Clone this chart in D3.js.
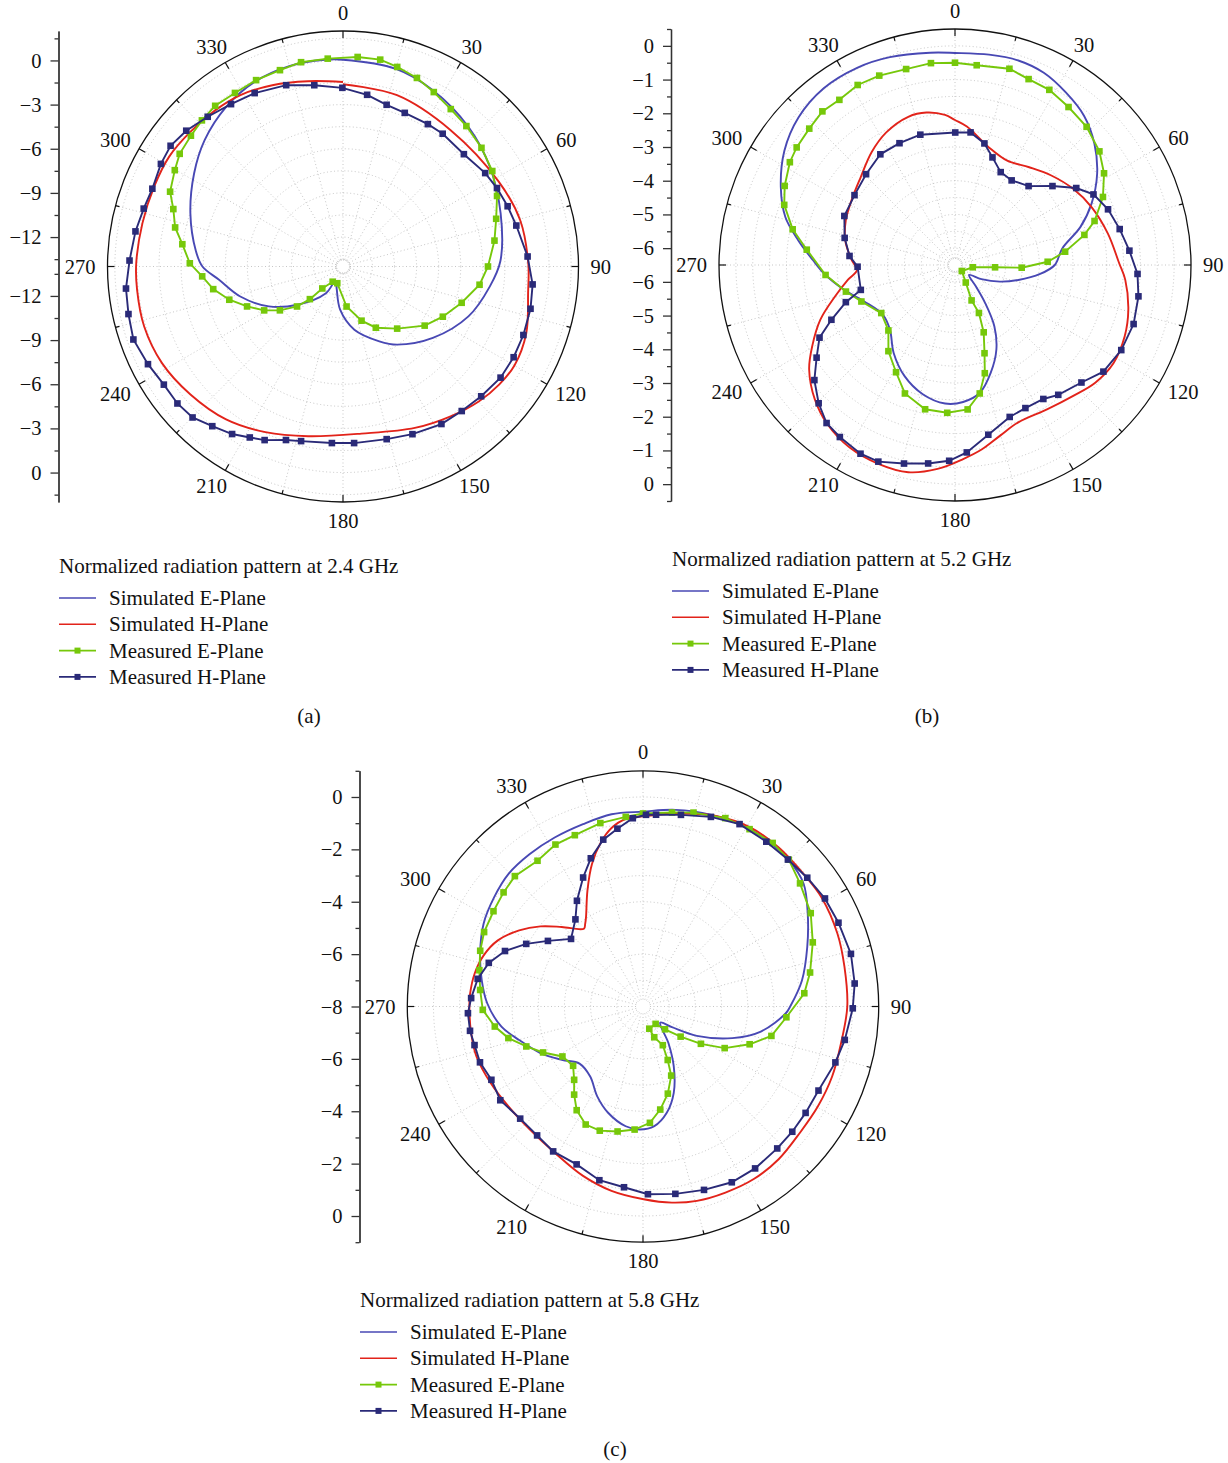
<!DOCTYPE html>
<html lang="en">
<head>
<meta charset="UTF-8">
<title>Normalized radiation patterns</title>
<script src="https://d3js.org/d3.v7.min.js"></script>
<style>
  body { margin: 0; background: #fff; }
  svg { display: block; }
</style>
</head>
<body>
<svg id="chart" width="1228" height="1463"></svg>
<script>
// ---- data: [angle in degrees, normalized level] ----
const angleLabels = [0, 30, 60, 90, 120, 150, 180, 210, 240, 270, 300, 330];
const seriesNames = ["Simulated E-Plane", "Simulated H-Plane", "Measured E-Plane", "Measured H-Plane"];
const panelTitles = [
  "Normalized radiation pattern at 2.4 GHz",
  "Normalized radiation pattern at 5.2 GHz",
  "Normalized radiation pattern at 5.8 GHz"
];
const panelLetters = ["(a)", "(b)", "(c)"];

// (a) 2.4 GHz
const a_simE = [[0,0.05],[15,-0.1],[27,-0.56],[41.9,-1.25],[55.8,-1.94],[71.4,-2.7],[88,-3.3],[97.7,-3.93],
  [111.7,-4.83],[128.5,-6.2],[145.3,-7.54],[154.1,-8.35],[169.8,-9.64],[183.8,-11.06],[196.5,-12.47],
  [207.8,-12.9],[212.6,-11.85],[230,-9.96],[241.7,-8.28],[253.7,-6.73],[263.9,-5.53],[270,-4.45],
  [276,-3.95],[289.2,-3.02],[302,-2.07],[312.4,-1.27],[323.8,-0.56],[334.4,-0.09],[345,0.1],[355,0.1]];
const a_simH = [[0,-1.62],[17.5,-1.8],[38.3,-2.2],[61.4,-1.95],[75.3,-1.56],[89,-1.41],[98,-1.3],[110,-0.75],
  [120,-0.55],[127,-0.7],[134.7,-0.99],[144.3,-1.47],[156,-2.0],[173.7,-2.58],[191.6,-2.23],[205.1,-1.57],
  [217.4,-0.92],[230,-0.47],[241.9,-0.06],[253.2,0.11],[263.6,0.08],[270.9,0.05],[282.2,-0.06],[292.9,-0.07],
  [302.3,-0.03],[311.4,-0.17],[320.8,-0.29],[329.1,-0.43],[338.7,-0.78],[349.3,-1.19],[360,-1.46]];
const a_measE = [[4,0.27],[10.2,0.28],[15.2,0.05],[21.4,-0.24],[27.5,-0.64],[34.4,-1.04],[41.3,-1.3],[49.4,-1.61],
  [57.4,-1.96],[65.4,-2.49],[72.7,-3.1],[80.3,-3.56],[90,-4.15],[97.6,-4.64],[107,-5.57],[116.7,-6.41],
  [125.9,-7.15],[138.9,-8.4],[151.8,-9.28],[161.1,-10.11],[174.9,-11.27],[198.9,-12.8],[214.2,-12.75],
  [223.3,-11.95],[225.4,-10.84],[229,-9.86],[235.2,-8.78],[240.9,-7.87],[247.4,-6.94],[253.7,-5.95],
  [260.1,-5.05],[266,-4.41],[271.2,-3.59],[277.9,-2.98],[283.1,-2.29],[288.7,-1.83],[293.4,-1.2],
  [299.8,-0.83],[304.6,-0.52],[310.7,-0.37],[316,-0.2],[321.5,-0.05],[328.1,-0.11],[335,-0.03],
  [342.2,0.01],[348.4,0.17],[355.8,0.16]];
const a_measH = [[8,-2.22],[15.1,-2.62],[21.9,-2.75],[30.8,-2.74],[36.9,-2.72],[47.1,-2.79],[56.7,-2.44],
  [63,-2.26],[69.9,-2.09],[76.7,-1.9],[86.9,-1.44],[95.4,-1.06],[102.7,-0.94],[110.8,-0.89],[118,-0.87],
  [125.2,-0.9],[133.2,-1.12],[140.6,-1.29],[148,-1.38],[157.5,-1.67],[165.8,-1.9],[176.4,-1.98],
  [183.6,-1.98],[193.5,-1.8],[198.2,-1.59],[204.3,-1.06],[208.6,-0.77],[213.5,-0.35],[219.3,0.02],
  [224.9,0.48],[230.4,0.6],[236.6,0.58],[243.4,0.82],[250.8,1.08],[257.5,0.93],[264.2,0.82],[271.6,0.51],
  [279.6,0.3],[286.2,0.1],[292.2,-0.01],[299.4,0.2],[305,0.3],[310.9,0.09],[317.9,-0.29],[325.4,-0.6],
  [333,-0.78],[342.6,-1.09],[351,-1.53],[359.8,-1.86]];

// (b) 5.2 GHz
const b_simE = [[0,-0.21],[9.2,-0.18],[17.2,-0.15],[24.8,-0.22],[32.8,-0.42],[40.9,-0.65],[49,-1.02],[57.3,-1.49],
  [65.8,-2.06],[73.1,-2.61],[81.2,-3.28],[90,-3.54],[96,-3.96],[103.3,-4.57],[110.3,-5.08],[118.2,-5.61],
  [125.2,-5.99],[135.7,-5.61],[141.6,-5.06],[147.3,-4.34],[153.9,-3.71],[161.7,-3.13],[169,-2.64],
  [176.6,-2.43],[184.1,-2.38],[194,-2.55],[204.4,-2.88],[214.9,-3.32],[225.2,-3.78],[235.5,-3.9],
  [248.1,-3.6],[257.4,-3.13],[266.4,-2.6],[272,-2.28],[279,-1.79],[285.8,-1.27],[294.1,-0.84],
  [303.8,-0.41],[313.3,-0.12],[323.4,0.03],[333.6,0.03],[342.6,-0.04],[353.3,-0.16]];
const b_simH = [[0,-2.2],[4.9,-2.38],[16.1,-2.87],[26.6,-3.04],[37.2,-2.86],[47.1,-2.6],[57.2,-2.33],[67,-2.1],
  [78.4,-1.87],[89.4,-1.63],[95,-1.43],[104.5,-1.19],[112.8,-1.04],[121.7,-0.97],[130,-1.07],[137.9,-1.27],
  [147.3,-1.42],[158.1,-1.47],[165.3,-1.26],[171.8,-0.97],[177.6,-0.74],[184.9,-0.43],[192.7,-0.2],
  [200.9,-0.18],[210,-0.25],[218.7,-0.45],[226.2,-0.74],[234.4,-1.18],[240.4,-1.63],[247.9,-2.19],
  [255.3,-2.82],[262.1,-3.29],[267.1,-3.59],[272.8,-3.43],[282.8,-3.16],[292.3,-3.0],[302,-2.88],
  [312.9,-2.68],[323.5,-2.34],[332.6,-2.07],[342.5,-1.89],[349.4,-1.9],[356.2,-2.04]];
const b_measE = [[0,-0.5],[6.2,-0.54],[15.5,-0.46],[21.6,-0.57],[28.3,-0.6],[35.7,-0.73],[43.6,-0.84],[51.8,-1.05],
  [58.4,-1.31],[65.3,-1.67],[72.5,-2.16],[76.9,-2.56],[83.1,-3.21],[88,-3.75],[92.3,-4.52],[93.3,-5.31],
  [97.3,-5.97],[131.4,-6.23],[148.4,-5.89],[154.9,-5.34],[153.5,-4.91],[156.9,-4.33],[161.5,-3.74],
  [164.6,-3.17],[169.1,-2.62],[175,-2.2],[183,-2.11],[191.7,-2.13],[201.3,-2.41],[208.8,-2.87],
  [217.7,-3.27],[225.5,-3.73],[236.9,-3.89],[248.7,-3.52],[256.3,-3.17],[265.6,-2.65],[275.9,-2.08],
  [282.4,-1.57],[289.4,-1.13],[294.9,-0.93],[301.9,-0.73],[306.6,-0.65],[313.1,-0.58],[319.2,-0.48],
  [325,-0.52],[331.6,-0.43],[338.2,-0.45],[346,-0.51],[353.2,-0.47]];
const b_measH = [[0.1,-2.57],[6.7,-2.54],[13.6,-2.79],[19.2,-3.12],[26.2,-3.43],[33.8,-3.48],[43,-3.3],[51,-2.78],
  [57.6,-2.24],[63,-1.89],[70,-1.67],[77.7,-1.5],[85.3,-1.31],[92.8,-1.08],[99.7,-0.98],[108.3,-0.92],
  [117.1,-0.96],[125.7,-1.08],[132.9,-1.38],[141.5,-1.58],[146.6,-1.74],[153.8,-1.77],[160.2,-1.71],
  [168.9,-1.37],[176.4,-0.93],[181.7,-0.69],[187.7,-0.56],[194.4,-0.42],[201.3,-0.24],[206.6,-0.24],
  [213.8,-0.36],[219.1,-0.46],[224.6,-0.74],[230.7,-1.11],[236.2,-1.56],[241.8,-1.94],[246.1,-2.49],
  [251.2,-3.08],[255.2,-3.61],[269,-3.61],[274.9,-3.36],[283.8,-3.13],[293.9,-2.91],[304.8,-2.87],
  [315.6,-2.73],[326,-2.54],[335.5,-2.53],[345.1,-2.5]];

// (c) 5.8 GHz
const c_simE = [[0,-0.56],[9.4,-0.39],[19.6,-0.23],[27.9,-0.12],[37,-0.07],[45.1,-0.11],[52.6,-0.28],[60.6,-0.78],
  [70.1,-1.33],[80.7,-1.85],[90,-2.38],[92.7,-2.54],[102,-3.4],[109.5,-4.38],[118.6,-5.66],[125.6,-6.64],
  [133.1,-7.1],[145.2,-6.3],[152.8,-5.43],[160.4,-4.5],[167.4,-3.84],[174.6,-3.41],[181.4,-3.3],
  [188.2,-3.38],[198.2,-3.73],[207,-4.15],[217,-4.65],[228,-4.74],[236.7,-4.29],[245.6,-3.7],
  [254.9,-3.1],[261.9,-2.54],[271.2,-2.05],[279.3,-1.76],[288,-1.46],[297.5,-1.14],[306.3,-0.95],
  [314.6,-0.79],[323.4,-0.75],[332.4,-0.72],[341.8,-0.67],[350.7,-0.56]];
const c_simH = [[1.2,-0.72],[10.6,-0.5],[20.6,-0.22],[30.9,-0.03],[40.5,-0.02],[50.5,-0.05],[58.5,-0.01],[69.4,-0.07],
  [78.9,-0.16],[90,-0.2],[100.5,-0.31],[110.3,-0.3],[119.7,-0.31],[128.8,-0.31],[138.4,-0.2],[147.3,-0.17],
  [156.1,-0.23],[164.5,-0.3],[171.6,-0.43],[179.8,-0.64],[189.7,-0.86],[199.5,-1.14],[211.1,-1.48],
  [222.6,-1.62],[233.4,-1.6],[243.3,-1.49],[253.3,-1.36],[261.2,-1.36],[270,-1.37],[274.3,-1.38],
  [281.1,-1.45],[287.8,-1.61],[294.5,-1.91],[301.6,-2.45],[308,-3.03],[314.4,-3.66],[322.8,-4.27],
  [325,-4.15],[327.5,-3.95],[334.4,-3.09],[340.3,-2.22],[345.6,-1.53],[350,-1.08],[354.7,-0.81]];
const c_measE = [[0,-0.63],[8.5,-0.51],[14.6,-0.35],[23.6,-0.15],[31,-0.1],[38.4,-0.03],[44.8,-0.1],[51.9,-0.38],
  [60.9,-0.67],[69.3,-1.07],[78.5,-1.49],[85.3,-1.82],[94.3,-2.51],[102.9,-2.97],[109.5,-3.68],[117,-4.5],
  [122.8,-5.37],[128.7,-6.16],[136,-6.79],[144,-7.18],[164.2,-7.12],[159.9,-6.75],[152.9,-6.34],
  [155.2,-5.75],[157.8,-5.15],[164.1,-4.54],[170.5,-4.01],[176.6,-3.55],[183.9,-3.29],[191.5,-3.13],
  [199.2,-2.98],[205.9,-2.99],[212.6,-3.3],[218,-3.73],[223.2,-4.16],[229.7,-4.5],[238.2,-4.38],
  [245.3,-3.8],[251.1,-3.29],[256.8,-2.72],[262.3,-2.29],[268.8,-1.88],[275.8,-1.75],[282.5,-1.6],
  [288.9,-1.43],[295.1,-1.3],[302.5,-1.23],[309.3,-1.12],[315.5,-1.02],[324.1,-1.13],[331.6,-0.97],
  [338.3,-0.96],[346.9,-0.81],[354.8,-0.73]];
const c_measH = [[0.9,-0.68],[3.9,-0.66],[11.2,-0.54],[19.7,-0.31],[27.9,-0.12],[36.8,-0.14],[44.6,-0.12],
  [51.9,-0.03],[59.3,0.08],[66.8,0.12],[75.8,0.19],[83.8,0.13],[90.5,0.01],[99.4,-0.19],[106.2,-0.35],
  [115.6,-0.57],[123.2,-0.58],[130,-0.56],[136.6,-0.54],[145.3,-0.48],[153.2,-0.48],[161.6,-0.62],
  [170.2,-0.74],[178.5,-0.83],[186,-1.06],[194.1,-1.16],[202.8,-1.46],[211.8,-1.49],[219.4,-1.63],
  [227.6,-1.65],[236.7,-1.48],[244.2,-1.57],[251.1,-1.42],[257.1,-1.4],[262,-1.33],[267.8,-1.31],
  [272.8,-1.43],[279.5,-1.6],[285.8,-1.88],[291.9,-2.32],[298.2,-2.94],[304.6,-3.59],[313.2,-4.23],
  [322.2,-3.79],[328,-3.24],[335.1,-2.57],[340.6,-2.0],[346.6,-1.45],[351.8,-1.14],[356.9,-0.8]];

// radial axis ticks
const a_major = [0, -3, -6, -9, -12], a_minor = [1.5, -1.5, -4.5, -7.5, -10.5, -13.5];
const b_major = [0, -1, -2, -3, -4, -5, -6], b_minor = [0.5, -0.5, -1.5, -2.5, -3.5, -4.5, -5.5];
const c_major = [0, -2, -4, -6, -8], c_minor = [1, -1, -3, -5, -7];

// ---- layout ----
const FONT = "'Liberation Serif', 'Times New Roman', serif";
const colors = ["#4848b4", "#e2231a", "#76c80a", "#2a2a78"];
const toRad = Math.PI / 180;

const panels = [
  { title: panelTitles[0], letter: panelLetters[0], data: [a_simE, a_simH, a_measE, a_measH],
    domain: [-14, 2], major: a_major, minor: a_minor, openH: true, centerRing: true,
    cx: 343, cy: 266.5, R: 235.5, axisX: 58.5, legX: 59, legY: 566, letterX: 309, letterY: 716 },
  { title: panelTitles[1], letter: panelLetters[1], data: [b_simE, b_simH, b_measE, b_measH],
    domain: [-6.5, 0.5], major: b_major, minor: b_minor, openH: false, centerRing: true,
    cx: 955, cy: 265, R: 236, axisX: 671, legX: 672, legY: 559, letterX: 927, letterY: 716 },
  { title: panelTitles[2], letter: panelLetters[2], data: [c_simE, c_simH, c_measE, c_measH],
    domain: [-8, 1], major: c_major, minor: c_minor, openH: false, centerRing: false,
    cx: 643, cy: 1006.5, R: 235.7, axisX: 359.5, legX: 360, legY: 1300, letterX: 615, letterY: 1449 }
];

const svg = d3.select("#chart");
svg.append("rect").attr("width", 1228).attr("height", 1463).attr("fill", "#fff");

panels.forEach(p => {
  const r = d3.scaleLinear().domain(p.domain).range([0, p.R]);
  const g = svg.append("g");
  const plot = g.append("g").attr("transform", `translate(${p.cx},${p.cy})`);

  // grid circles
  const gridVals = p.major.concat(p.minor).filter(v => v > p.domain[0] && v < p.domain[1]);
  plot.selectAll(".gc").data(gridVals).enter().append("circle")
    .attr("r", d => r(d)).attr("fill", "none")
    .attr("stroke", "#b8b8b8").attr("stroke-width", 0.8).attr("stroke-dasharray", "1,2.5");
  if (p.centerRing) {
    plot.append("circle").attr("r", 6.5).attr("fill", "none")
      .attr("stroke", "#aaa").attr("stroke-width", 0.8).attr("stroke-dasharray", "1,1.5");
  }
  // radial grid lines
  const spokes = d3.range(0, 360, 15);
  plot.selectAll(".sp").data(spokes).enter().append("line")
    .attr("x1", d => d3.pointRadial(d * toRad, 7)[0])
    .attr("y1", d => d3.pointRadial(d * toRad, 7)[1])
    .attr("x2", d => d3.pointRadial(d * toRad, p.R)[0])
    .attr("y2", d => d3.pointRadial(d * toRad, p.R)[1])
    .attr("stroke", "#b8b8b8").attr("stroke-width", 0.8).attr("stroke-dasharray", "1,2.5");

  // outer circle + angular ticks
  plot.append("circle").attr("r", p.R).attr("fill", "none").attr("stroke", "#111").attr("stroke-width", 1.3);
  plot.selectAll(".at").data(spokes).enter().append("line")
    .attr("x1", d => d3.pointRadial(d * toRad, p.R)[0])
    .attr("y1", d => d3.pointRadial(d * toRad, p.R)[1])
    .attr("x2", d => d3.pointRadial(d * toRad, p.R - (d % 30 === 0 ? 7 : 4))[0])
    .attr("y2", d => d3.pointRadial(d * toRad, p.R - (d % 30 === 0 ? 7 : 4))[1])
    .attr("stroke", "#111").attr("stroke-width", 1.2);
  plot.selectAll(".al").data(angleLabels).enter().append("text")
    .attr("x", d => {
      const w = String(d).length * 10.2;
      return d3.pointRadial(d * toRad, p.R + 12)[0] + Math.sin(d * toRad) * w / 2;
    })
    .attr("y", d => d3.pointRadial(d * toRad, p.R + 12)[1] - Math.cos(d * toRad) * 6.5)
    .attr("text-anchor", "middle").attr("dominant-baseline", "central")
    .attr("font-family", FONT).attr("font-size", 20.5).attr("fill", "#111")
    .text(d => d);

  // series
  const smoothClosed = d3.lineRadial().angle(d => d[0] * toRad).radius(d => r(d[1]))
    .curve(d3.curveCatmullRomClosed.alpha(0.5));
  const smoothOpen = d3.lineRadial().angle(d => d[0] * toRad).radius(d => r(d[1]))
    .curve(d3.curveCatmullRom.alpha(0.5));
  const straight = d3.lineRadial().angle(d => d[0] * toRad).radius(d => r(d[1]))
    .curve(d3.curveLinearClosed);

  plot.append("path").attr("d", smoothClosed(p.data[0]))
    .attr("fill", "none").attr("stroke", colors[0]).attr("stroke-width", 1.9);
  plot.append("path").attr("d", (p.openH ? smoothOpen : smoothClosed)(p.data[1]))
    .attr("fill", "none").attr("stroke", colors[1]).attr("stroke-width", 1.9);
  [2, 3].forEach(k => {
    plot.append("path").attr("d", straight(p.data[k]))
      .attr("fill", "none").attr("stroke", colors[k]).attr("stroke-width", 1.9);
    plot.selectAll(".m" + k).data(p.data[k]).enter().append("rect")
      .attr("x", d => d3.pointRadial(d[0] * toRad, r(d[1]))[0] - 3.3)
      .attr("y", d => d3.pointRadial(d[0] * toRad, r(d[1]))[1] - 3.3)
      .attr("width", 6.6).attr("height", 6.6).attr("fill", colors[k]);
  });

  // mirrored radial axis on the left
  const yTop = d3.scaleLinear().domain(p.domain).range([p.cy, p.cy - p.R]);
  const yBot = d3.scaleLinear().domain(p.domain).range([p.cy, p.cy + p.R]);
  const fmt = d3.format("d");
  const axes = [
    d3.axisLeft(yTop).tickValues(p.major).tickSize(8).tickSizeOuter(0).tickPadding(9).tickFormat(fmt),
    d3.axisLeft(yTop).tickValues(p.minor).tickSize(4).tickSizeOuter(0).tickFormat(""),
    d3.axisLeft(yBot).tickValues(p.major.filter(v => v > p.domain[0])).tickSize(8).tickSizeOuter(0).tickPadding(9).tickFormat(fmt),
    d3.axisLeft(yBot).tickValues(p.minor).tickSize(4).tickSizeOuter(0).tickFormat("")
  ];
  axes.forEach(ax => {
    const ag = g.append("g").attr("transform", `translate(${p.axisX},0)`).call(ax);
    ag.attr("font-family", FONT).attr("font-size", 20.5);
    ag.selectAll("path, line").attr("stroke", "#333").attr("stroke-width", 1.3);
    ag.selectAll("text").attr("fill", "#111");
  });

  // legend
  const leg = g.append("g").attr("font-family", FONT).attr("font-size", 21).attr("fill", "#111");
  leg.append("text").attr("x", p.legX).attr("y", p.legY).attr("dominant-baseline", "central").text(p.title);
  seriesNames.forEach((name, k) => {
    const y = p.legY + 32 + k * 26.3;
    leg.append("line").attr("x1", p.legX).attr("x2", p.legX + 37).attr("y1", y).attr("y2", y)
      .attr("stroke", colors[k]).attr("stroke-width", 1.6);
    if (k >= 2) {
      leg.append("rect").attr("x", p.legX + 15.5).attr("y", y - 3).attr("width", 6).attr("height", 6)
        .attr("fill", colors[k]);
    }
    leg.append("text").attr("x", p.legX + 50).attr("y", y).attr("dominant-baseline", "central").text(name);
  });
  g.append("text").attr("x", p.letterX).attr("y", p.letterY)
    .attr("text-anchor", "middle").attr("dominant-baseline", "central")
    .attr("font-family", FONT).attr("font-size", 21).attr("fill", "#111").text(p.letter);
});
</script>
</body>
</html>
